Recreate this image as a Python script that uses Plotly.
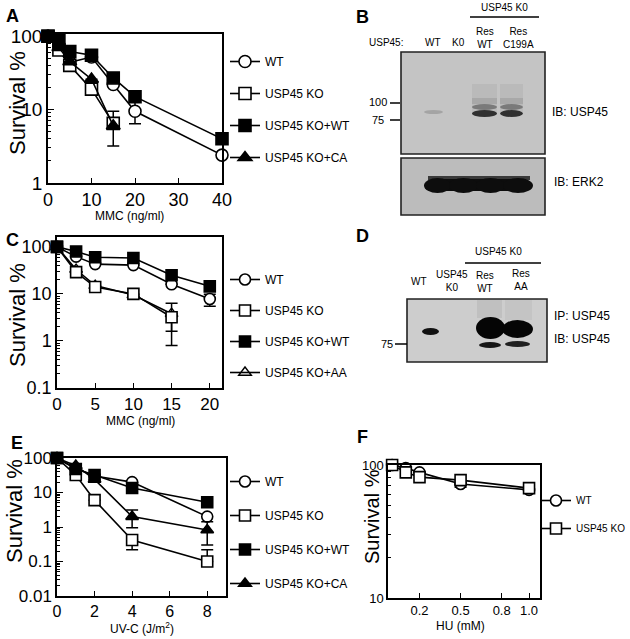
import plotly.graph_objects as go

W, H = 630, 639
FONT = "Liberation Sans, Arial, sans-serif"
BFONT = "Liberation Sans, Arial, sans-serif"

def fx(p):
    return p / W

def fy(p):
    return 1 - p / H

# ---------------- DATA ----------------
# Panel A: MMC (ng/ml)
a_x_full = [0, 2.5, 5, 10, 15, 20, 40]
a_x_short = [0, 2.5, 5, 10, 15]
a_wt = [100, 75, 44, 52, 22, 9.5, 2.4]
a_wt_up = [0, 0, 0, 0, 0, 3.3, 0]
a_wt_dn = [0, 0, 0, 0, 0, 3.1, 0]
a_ko = [100, 65, 40, 19, 6.5]
a_ko_up = [0, 0, 0, 0, 3.0]
a_ko_dn = [0, 0, 0, 0, 0]
a_kowt = [100, 88, 62, 55, 27, 15, 4.0]
a_ca = [100, 70, 45, 26, 6.0]
a_ca_up = [0, 0, 0, 0, 0]
a_ca_dn = [0, 0, 0, 0, 2.8]

# Panel C: MMC (ng/ml)
c_x_full = [0, 2.5, 5, 10, 15, 20]
c_x_short = [0, 2.5, 5, 10, 15]
c_wt = [100, 62, 43, 41, 16, 7.8]
c_wt_up = [0, 0, 0, 0, 0, 2.0]
c_wt_dn = [0, 0, 0, 0, 0, 2.3]
c_ko = [100, 29, 14, 10, 3.2]
c_ko_up = [0, 0, 0, 0, 3.1]
c_ko_dn = [0, 0, 0, 0, 2.4]
c_kowt = [100, 80, 60, 58, 25, 14.5]
c_aa = [100, 33, 15, 9.5, 3.8]
c_aa_up = [0, 0, 0, 0, 0]
c_aa_dn = [0, 0, 0, 0, 2.2]

# Panel E: UV-C (J/m2)
e_x = [0, 1, 2, 4, 8]
e_wt = [100, 50, 30, 20, 2.0]
e_ko = [100, 32, 6.0, 0.42, 0.10]
e_ko_up = [0, 0, 0, 0, 0.12]
e_ko_dn = [0, 0, 0, 0.2, 0]
e_kowt = [100, 48, 32, 13.5, 5.2]
e_ca = [100, 60, 24, 2.0, 0.82]
e_ca_up = [0, 0, 0, 1.1, 0.6]
e_ca_dn = [0, 0, 0, 1.05, 0.52]

# Panel F: HU (mM)
f_x = [0, 0.1, 0.2, 0.5, 1.0]
f_wt = [100, 95, 88, 72, 65]
f_ko = [100, 88, 81, 77, 67]
f_wt_dn = [0, 0, 0, 4, 2]

# ---------------- FIGURE ----------------
fig = go.Figure()

OPEN = dict(color="white", line=dict(color="black", width=1.6))
FILL = dict(color="black", line=dict(color="black", width=1.6))

def err(up, dn):
    return dict(type="data", symmetric=False, array=up, arrayminus=dn,
                color="black", thickness=1.5, width=6)

def add(x, y, name, symbol, style, size, xa, ya, legend, rank, up=None, dn=None):
    mk = dict(symbol=symbol, size=size, **style)
    tr = go.Scatter(x=x, y=y, name=name, mode="lines+markers",
                    line=dict(color="black", width=1.6), marker=mk,
                    xaxis=xa, yaxis=ya, legend=legend, legendrank=rank,
                    legendgroup=legend + str(rank), cliponaxis=False)
    if up is not None:
        tr.error_y = err(up, dn)
    fig.add_trace(tr)

# A
add(a_x_full, a_wt, "WT", "circle", OPEN, 12, "x", "y", "legend", 1, a_wt_up, a_wt_dn)
add(a_x_short, a_ko, "USP45 KO", "square", OPEN, 12, "x", "y", "legend", 2, a_ko_up, a_ko_dn)
add(a_x_short, a_ca, "USP45 KO+CA", "triangle-up", FILL, 12, "x", "y", "legend", 4, a_ca_up, a_ca_dn)
add(a_x_full, a_kowt, "USP45 KO+WT", "square", FILL, 12, "x", "y", "legend", 3)
# C
add(c_x_short, c_aa, "USP45 KO+AA", "triangle-up-open", dict(color="black", line=dict(color="black", width=1.4)), 11, "x2", "y2", "legend2", 4, c_aa_up, c_aa_dn)
add(c_x_full, c_wt, "WT", "circle", OPEN, 11, "x2", "y2", "legend2", 1, c_wt_up, c_wt_dn)
add(c_x_short, c_ko, "USP45 KO", "square", OPEN, 11, "x2", "y2", "legend2", 2, c_ko_up, c_ko_dn)
add(c_x_full, c_kowt, "USP45 KO+WT", "square", FILL, 11, "x2", "y2", "legend2", 3)
# E
add(e_x, e_wt, "WT", "circle", OPEN, 11, "x3", "y3", "legend3", 1)
add(e_x, e_ko, "USP45 KO", "square", OPEN, 11, "x3", "y3", "legend3", 2, e_ko_up, e_ko_dn)
add(e_x, e_kowt, "USP45 KO+WT", "square", FILL, 11, "x3", "y3", "legend3", 3)
add(e_x, e_ca, "USP45 KO+CA", "triangle-up", FILL, 11, "x3", "y3", "legend3", 4, e_ca_up, e_ca_dn)
# F
add(f_x, f_wt, "WT", "circle", OPEN, 11, "x4", "y4", "legend4", 1, [0] * 5, f_wt_dn)
add(f_x, f_ko, "USP45 KO", "square", OPEN, 11, "x4", "y4", "legend4", 2)

def minor_log(lo, hi):
    vals = []
    for e in range(lo, hi):
        for m in range(2, 10):
            vals.append(m * 10 ** e)
    return vals

def xaxis(px0, px1, rng, tickvals, ticktext, size, anchor):
    return dict(domain=[fx(px0), fx(px1)], range=rng, tickvals=tickvals, ticktext=ticktext,
                showline=True, mirror=True, linecolor="black", linewidth=1.5,
                ticks="inside", ticklen=5, tickwidth=1.2, tickcolor="black",
                showgrid=False, zeroline=False, anchor=anchor,
                tickfont=dict(family=FONT, size=size, color="black"))

def yaxis(py0, py1, rng, tickvals, ticktext, size, anchor, mlo, mhi):
    return dict(domain=[fy(py1), fy(py0)], range=rng, type="log",
                tickvals=tickvals, ticktext=ticktext,
                showline=True, mirror=True, linecolor="black", linewidth=1.5,
                ticks="inside", ticklen=6, tickwidth=1.2, tickcolor="black",
                minor=dict(tickvals=minor_log(mlo, mhi), ticks="inside", ticklen=3,
                           tickwidth=1, tickcolor="black"),
                showgrid=False, zeroline=False, anchor=anchor,
                tickfont=dict(family=FONT, size=size, color="black"))

layout = dict(
    width=W, height=H, margin=dict(l=0, r=0, t=0, b=0, pad=0, autoexpand=False),
    paper_bgcolor="white", plot_bgcolor="white",
    xaxis=xaxis(48, 222, [0, 40], [0, 10, 20, 30, 40], ["0", "10", "20", "30", "40"], 18, "y"),
    yaxis=yaxis(34, 183, [0, 2.03], [1, 10, 100], ["1", "10", "100"], 19, "x", 0, 2),
    xaxis2=xaxis(57, 222, [0, 21.6], [0, 5, 10, 15, 20], ["0", "5", "10", "15", "20"], 17, "y2"),
    yaxis2=yaxis(237, 388, [-1, 2.21], [0.1, 1, 10, 100], ["0.1", "1", "10", "100"], 18, "x2", -1, 2),
    xaxis3=xaxis(57, 226, [0, 9], [0, 2, 4, 6, 8], ["0", "2", "4", "6", "8"], 16, "y3"),
    yaxis3=yaxis(458, 596, [-2, 2], [0.01, 0.1, 1, 10, 100], ["0.01", "0.1", "1", "10", "100"], 17, "x3", -2, 2),
    xaxis4=xaxis(388, 540, [-0.03, 1.08], [0.2, 0.5, 0.8, 1.0], ["0.2", "0.5", "0.8", "1.0"], 13, "y4"),
    yaxis4=yaxis(465, 598, [1, 2], [10, 100], ["10", "100"], 13, "x4", 1, 2),
)

def leg(px, py, gap, size=12):
    return dict(x=fx(px), y=fy(py), xanchor="left", yanchor="top", bgcolor="rgba(0,0,0,0)",
                font=dict(family=FONT, size=size, color="black"), tracegroupgap=gap,
                itemwidth=30, traceorder="grouped")

layout["legend"] = leg(225, 47, 13)
layout["legend2"] = leg(225, 265, 12)
layout["legend3"] = leg(225, 467, 15)
layout["legend4"] = leg(536, 486, 9, 10)
fig.update_layout(**layout)

# ---------------- TEXT ----------------
ann = []

def txt(x, y, s, size=12, family=FONT, angle=0, xanchor="center", bold=False):
    if bold:
        s = "<b>" + s + "</b>"
    ann.append(dict(x=fx(x), y=fy(y), xref="paper", yref="paper", text=s, showarrow=False,
                    xanchor=xanchor, yanchor="middle", textangle=angle,
                    font=dict(family=family, size=size, color="black")))

# panel letters
for L, x, y in [("A", 12, 16), ("B", 362, 17), ("C", 12, 240), ("D", 362, 236), ("E", 17, 443), ("F", 363, 437)]:
    txt(x, y, L, size=18, family=BFONT, bold=True)

# axis titles
txt(17, 103, "Survival %", size=22, family=BFONT, angle=-90)
txt(17, 315, "Survival %", size=22, family=BFONT, angle=-90)
txt(14, 511, "Survival %", size=22, family=BFONT, angle=-90)
txt(372, 517, "Survival %", size=20, family=BFONT, angle=-90)
txt(129, 216, "MMC (ng/ml)", size=12)
txt(140, 421, "MMC (ng/ml)", size=12)
txt(142, 628, "UV-C (J/m<sup>2</sup>)", size=12)
txt(461, 626, "HU (mM)", size=12)

# blot B labels
txt(504, 8, "USP45 K0", size=10)
txt(386, 43, "USP45:", size=10)
txt(433, 43, "WT", size=10)
txt(458, 43, "K0", size=10)
txt(485, 38, "Res<br>WT", size=10)
txt(518, 38, "Res<br>C199A", size=10)
txt(378, 102, "100", size=11)
txt(378, 120, "75", size=11)
txt(550, 112, "IB: USP45", size=12, xanchor="left")
txt(552, 182, "IB: ERK2", size=12, xanchor="left")

# blot D labels
txt(498, 252, "USP45 K0", size=10)
txt(419, 281, "WT", size=10)
txt(452, 281, "USP45<br>K0", size=10)
txt(485, 282, "Res<br>WT", size=10)
txt(521, 280, "Res<br>AA", size=10)
txt(387, 344, "75", size=11)
txt(552, 316, "IP: USP45", size=12, xanchor="left")
txt(552, 339, "IB: USP45", size=12, xanchor="left")

fig.update_layout(annotations=ann)

# ---------------- BLOT SHAPES ----------------
shapes = []

def rect(x0, y0, x1, y1, fill, line=None, lw=0, opacity=1.0, kind="rect"):
    shapes.append(dict(type=kind, xref="paper", yref="paper",
                       x0=fx(x0), x1=fx(x1), y0=fy(y1), y1=fy(y0),
                       fillcolor=fill, opacity=opacity,
                       line=dict(color=line or fill, width=lw), layer="above"))

def hline(x0, x1, y, lw=1.5):
    shapes.append(dict(type="line", xref="paper", yref="paper", x0=fx(x0), x1=fx(x1),
                       y0=fy(y), y1=fy(y), line=dict(color="black", width=lw)))

# B upper blot
rect(401, 52, 545, 154, "#c4c4c4", "#222222", 1.6)
rect(424, 110, 443, 114, "#a4a4a4", kind="circle")
for lx0, lx1 in [(472, 497), (500, 523)]:
    rect(lx0, 84, lx1, 112, "#b8b8b8", opacity=0.8)
    rect(lx0, 98, lx1, 104, "#a4a4a4", opacity=0.8)
    rect(lx0, 104, lx1, 110, "#7a7a7a", kind="circle")
    rect(lx0, 110, lx1, 117, "#303030", kind="circle")
# B lower blot
rect(401, 158, 545, 215, "#bcbcbc", "#222222", 1.6)
rect(428, 176, 530, 180, "#3a3a3a")
rect(432, 179, 526, 191, "#0d0d0d")
for lx0, lx1 in [(424, 451), (449, 478), (476, 505), (503, 533)]:
    rect(lx0, 178, lx1, 193, "#0d0d0d", kind="circle")
hline(470, 539, 17)
hline(390, 400, 103)
hline(390, 400, 120)

# D blot
rect(407, 299, 547, 362, "#cdcdcd", "#222222", 1.6)
rect(422, 328, 439, 335, "#111111", kind="circle")
rect(477, 300, 502, 318, "#bdbdbd", opacity=0.8)
rect(505, 300, 532, 320, "#c2c2c2", opacity=0.8)
rect(476, 317, 505, 339, "#050505", kind="circle")
rect(502, 320, 533, 338, "#050505", kind="circle")
rect(479, 342, 501, 348, "#151515", kind="circle")
rect(505, 341, 530, 347, "#202020", kind="circle")
hline(465, 541, 263)
hline(395, 407, 344)

fig.update_layout(shapes=shapes)

fig.write_html("out.html", config={"displayModeBar": False},
               post_script="document.body.style.margin='0px';")
